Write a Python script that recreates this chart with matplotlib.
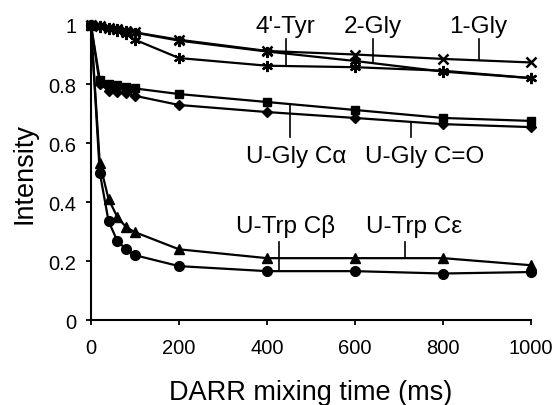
import numpy as np
import matplotlib
matplotlib.use("Agg")
import matplotlib.pyplot as plt

plt.rcParams['font.family'] = ['Liberation Sans', 'DejaVu Sans']

t = [0, 20, 40, 60, 80, 100, 200, 400, 600, 800, 1000]

gly1 = [1.0, 0.995, 0.99, 0.985, 0.98, 0.975, 0.950, 0.912, 0.900, 0.885, 0.873]
gly2 = [1.0, 0.995, 0.99, 0.985, 0.98, 0.974, 0.947, 0.910, 0.878, 0.842, 0.820]
tyr4 = [1.0, 0.993, 0.985, 0.978, 0.968, 0.950, 0.888, 0.862, 0.857, 0.845, 0.820]
gly_ca = [1.0, 0.815, 0.800, 0.795, 0.790, 0.785, 0.766, 0.739, 0.712, 0.685, 0.675]
gly_co = [1.0, 0.800, 0.778, 0.773, 0.770, 0.760, 0.729, 0.705, 0.685, 0.664, 0.654]
trp_ce = [1.0, 0.532, 0.410, 0.349, 0.315, 0.298, 0.240, 0.210, 0.210, 0.210, 0.186]
trp_cb = [1.0, 0.500, 0.335, 0.268, 0.240, 0.220, 0.183, 0.166, 0.166, 0.158, 0.163]

fig = plt.figure(figsize=(5.58, 4.06), dpi=100)
ax = fig.add_axes([0.163, 0.209, 0.789, 0.727])

lw = 1.6
k = dict(color='black', lw=lw, clip_on=False)
ax.plot(t, gly1, marker='x', ms=7, mew=1.8, **k)
ax.plot(t, gly2, marker=(6, 2, 0), ms=8, mew=1.6, **k)
ax.plot(t, tyr4, marker=(6, 2, 0), ms=8, mew=1.6, **k)
ax.plot(t, gly_ca, marker='s', ms=6, **k)
ax.plot(t, gly_co, marker='D', ms=5.5, **k)
ax.plot(t, trp_ce, marker='^', ms=7, **k)
ax.plot(t, trp_cb, marker='o', ms=7, **k)

ax.set_xlim(0, 1000)
ax.set_ylim(0, 1)
ax.set_xticks([0, 200, 400, 600, 800, 1000])
ax.set_yticks([0, 0.2, 0.4, 0.6, 0.8, 1])
ax.set_yticklabels(['0', '0.2', '0.4', '0.6', '0.8', '1'])
for s in ['top', 'right']:
    ax.spines[s].set_visible(False)
for s in ['left', 'bottom']:
    ax.spines[s].set_linewidth(1.5)
ax.tick_params(direction='out', length=3.5, width=1.3, labelsize=14.5, pad=7)
ax.tick_params(axis='x', pad=9)
ax.set_xlabel('DARR mixing time (ms)', fontsize=19.5, labelpad=16)
ax.set_ylabel('Intensity', fontsize=19.5, labelpad=8)

fs = 17.5
def label(text, tx, ty, lx, y0, y1):
    ax.text(tx, ty, text, fontsize=fs, ha='center', va='baseline')
    ax.plot([lx, lx], [y0, y1], color='black', lw=1.2)

top = 0.953
label("4'-Tyr", 441, 0.976, 443, top, np.interp(443, t, tyr4))
label("2-Gly", 641, 0.976, 641, top, np.interp(641, t, gly2))
label("1-Gly", 880, 0.976, 882, top, np.interp(882, t, gly1))
label("U-Gly C\u03b1", 466, 0.536, 452, np.interp(452, t, gly_ca), 0.62)
label("U-Gly C=O", 759, 0.536, 727, np.interp(727, t, gly_co), 0.62)
label("U-Trp C\u03b2", 443, 0.298, 427, 0.264, np.interp(427, t, trp_cb))
label("U-Trp C\u03b5", 734, 0.298, 714, 0.264, np.interp(714, t, trp_ce))

fig.savefig('out.png', dpi=100)
